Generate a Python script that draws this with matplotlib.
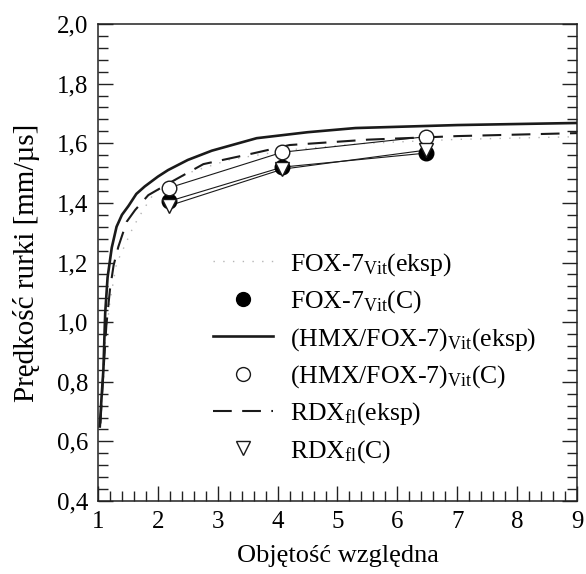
import matplotlib
matplotlib.use("Agg")
import matplotlib.pyplot as plt
from matplotlib.ticker import MultipleLocator, FuncFormatter

# FOX-7_Vit (eksp) - grey dotted curve
fox_exp_x = [1.05, 1.12, 1.2, 1.26, 1.31, 1.45, 1.59, 1.76, 1.95, 2.5, 3.2, 4.2, 5.5, 7.0, 9.0]
fox_exp_y = [0.70, 0.93, 1.07, 1.14, 1.197, 1.258, 1.32, 1.378, 1.437, 1.50, 1.545, 1.578, 1.60, 1.613, 1.622]

# (HMX/FOX-7)_Vit (eksp) - solid curve
hmx_exp_x = [1.03, 1.06, 1.09, 1.12, 1.16, 1.23, 1.31, 1.40, 1.51, 1.64, 1.78, 2.0, 2.17, 2.5, 2.9, 3.65, 4.5, 5.3, 7.0, 9.0]
hmx_exp_y = [0.65, 0.75, 0.84, 1.03, 1.15, 1.25, 1.32, 1.36, 1.39, 1.43, 1.455, 1.488, 1.51, 1.544, 1.575, 1.617, 1.637, 1.651, 1.661, 1.668]

# RDX_fl (eksp) - dashed curve
rdx_exp_x = [1.04, 1.08, 1.14, 1.2, 1.26, 1.34, 1.48, 1.62, 1.84, 2.23, 2.76, 3.59, 4.2, 5.5, 7.0, 9.0]
rdx_exp_y = [0.66, 0.80, 0.99, 1.11, 1.19, 1.253, 1.337, 1.376, 1.426, 1.471, 1.53, 1.566, 1.594, 1.612, 1.624, 1.634]

# computed (C) points
calc_x = [2.18, 4.08, 6.48]
fox_c = [1.405, 1.52, 1.567]
hmx_c = [1.45, 1.57, 1.622]
rdx_c = [1.39, 1.513, 1.577]

plt.rcParams['font.family'] = ['Liberation Serif', 'DejaVu Serif']
plt.rcParams['mathtext.fontset'] = 'custom'
plt.rcParams['mathtext.rm'] = 'Liberation Serif'
plt.rcParams['mathtext.it'] = 'Liberation Serif:italic'

fig = plt.figure(figsize=(5.86, 5.74), dpi=100)
ax = fig.add_axes([98/586, 1 - 501/574, 479/586, 477/574])

ax.plot(fox_exp_x, fox_exp_y, color='#b5b5b5', lw=1.0, ls=(0, (1, 6)),
        label=r'FOX-7$_{\mathrm{Vit}}$(eksp)', zorder=2)
ax.plot(hmx_exp_x, hmx_exp_y, color='#1a1a1a', lw=1.9,
        label=r'(HMX/FOX-7)$_{\mathrm{Vit}}$(eksp)', zorder=3)
ax.plot(rdx_exp_x, rdx_exp_y, color='#1a1a1a', lw=1.5, ls=(0, (9, 5)),
        label=r'RDX$_{\mathrm{fl}}$(eksp)', zorder=3)

# thin connecting lines between calculated points
ax.plot(calc_x, fox_c, color='#1a1a1a', lw=0.8, zorder=4)
ax.plot(calc_x, hmx_c, color='#1a1a1a', lw=0.8, zorder=4)
ax.plot(calc_x, rdx_c, color='#1a1a1a', lw=0.8, zorder=4)

ax.plot(calc_x, fox_c, ls='none', marker='o', ms=10.5, mfc='black', mec='black',
        label=r'FOX-7$_{\mathrm{Vit}}$(C)', zorder=5)
ax.plot(calc_x, hmx_c, ls='none', marker='o', ms=10.5, mfc='white', mec='#1a1a1a', mew=1.0,
        label=r'(HMX/FOX-7)$_{\mathrm{Vit}}$(C)', zorder=6)
ax.plot(calc_x, rdx_c, ls='none', marker='v', ms=10.5, mfc='white', mec='#1a1a1a', mew=1.0,
        label=r'RDX$_{\mathrm{fl}}$(C)', zorder=6)

ax.set_xlim(1, 9)
ax.set_ylim(0.4, 2.0)
ax.xaxis.set_major_locator(MultipleLocator(1))
ax.xaxis.set_minor_locator(MultipleLocator(0.2))
ax.yaxis.set_major_locator(MultipleLocator(0.2))
ax.yaxis.set_minor_locator(MultipleLocator(0.04))
ax.yaxis.set_major_formatter(FuncFormatter(lambda v, p: f"{v:.1f}".replace('.', ',')))
ax.tick_params(which='both', direction='in', top=False, right=True, width=1.0, color='#222222')
ax.tick_params(which='major', length=11, labelsize=18, pad=7)
ax.tick_params(which='minor', length=7)
for s in ax.spines.values():
    s.set_linewidth(1.1)
    s.set_color('#222222')

ax.set_xlabel('Objętość względna', fontsize=19, labelpad=9)
ax.set_ylabel('Prędkość rurki [mm/µs]', fontsize=21, labelpad=12)

h, l = ax.get_legend_handles_labels()
order = [0, 3, 1, 4, 2, 5]
ax.legend([h[i] for i in order], [l[i] for i in order], loc='upper left',
          bbox_to_anchor=(213/586, 1 - 251/574), bbox_transform=fig.transFigure,
          frameon=False, fontsize=18.5, handlelength=2.35, handletextpad=0.65,
          labelspacing=0.41, borderpad=0, borderaxespad=0, markerscale=0.95)

fig.savefig('out.png', dpi=100)
